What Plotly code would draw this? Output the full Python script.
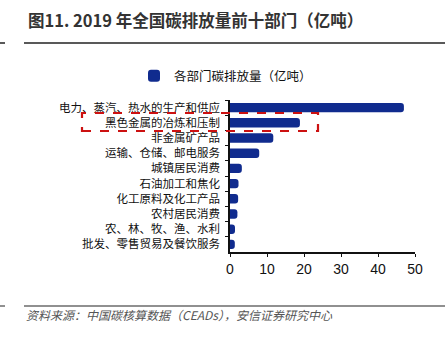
import plotly.graph_objects as go

categories = ["电力、蒸汽、热水的生产和供应", "黑色金属的冶炼和压制", "非金属矿产品",
              "运输、仓储、邮电服务", "城镇居民消费", "石油加工和焦化",
              "化工原料及化工产品", "农村居民消费", "农、林、牧、渔、水利",
              "批发、零售贸易及餐饮服务"]
values = [47.0, 18.9, 11.7, 7.9, 3.2, 2.3, 2.2, 2.0, 1.35, 1.3]
series_name = "各部门碳排放量（亿吨）"
x_ticks = [0, 10, 20, 30, 40, 50]

FONT = "Noto Sans CJK SC"
BLUE = "#102B8E"

fig = go.Figure()
fig.add_trace(go.Bar(
    x=values, y=categories, orientation="h", name=series_name,
    marker=dict(color=BLUE, line=dict(width=0)), width=0.62,
    showlegend=True,
))

L, R, T, B = 230, 30, 100, 87
W, H = 445, 339
pw, ph = W - L - R, H - T - B

def px(x):
    return (x - L) / pw

def py(y):
    return (H - B - y) / ph

shapes = [
    dict(type="line", xref="paper", yref="paper", x0=px(0), x1=px(5), y0=py(43), y1=py(43),
         line=dict(color="#222", width=1.5)),
    dict(type="line", xref="paper", yref="paper", x0=px(24), x1=px(445), y0=py(43), y1=py(43),
         line=dict(color="#222", width=1.5)),
    dict(type="line", xref="paper", yref="paper", x0=px(0), x1=px(5), y0=py(306), y1=py(306),
         line=dict(color="#222", width=1)),
    dict(type="line", xref="paper", yref="paper", x0=px(24), x1=px(445), y0=py(306), y1=py(306),
         line=dict(color="#222", width=1.2)),
    dict(type="rect", xref="paper", yref="paper", x0=px(82), x1=px(318), y0=py(131), y1=py(113),
         line=dict(color="#CC1111", width=2.2, dash="dash")),
]

annotations = [
    dict(text="<b>图11. 2019 年全国碳排放量前十部门（亿吨）</b>", xref="paper", yref="paper",
         x=px(26), y=py(20), xanchor="left", yanchor="middle", showarrow=False,
         font=dict(family=FONT, size=16.5, color="#333")),
    dict(text="<i>资料来源：中国碳核算数据（CEADs），安信证券研究中心</i>", xref="paper", yref="paper",
         x=px(24), y=py(314), xanchor="left", yanchor="middle", showarrow=False,
         font=dict(family=FONT, size=12, color="#555")),
]

fig.update_layout(
    width=W, height=H,
    margin=dict(l=L, r=R, t=T, b=B),
    paper_bgcolor="white", plot_bgcolor="white",
    font=dict(family=FONT, size=12, color="#111"),
    shapes=shapes, annotations=annotations,
    bargap=0.38,
    legend=dict(orientation="h", x=px(134), y=py(76), xanchor="left", yanchor="middle",
                itemwidth=30,
                font=dict(family=FONT, size=12.5, color="#111"), bgcolor="rgba(0,0,0,0)"),
    xaxis=dict(range=[0, 50], tickvals=x_ticks, showgrid=False, zeroline=False,
               showline=True, linecolor="#111", linewidth=1.5, ticks="outside", ticklen=3,
               tickcolor="#111", tickfont=dict(family="Liberation Sans", size=14, color="#111")),
    yaxis=dict(categoryorder="array", categoryarray=categories, autorange="reversed",
               showgrid=False, showline=True, linecolor="#111", linewidth=1.5,
               ticks="outside", ticklen=3, tickcolor="#111", tickson="boundaries",
               ticklabelstandoff=6,
               tickfont=dict(family=FONT, size=11.5, color="#111")),
    barcornerradius=3,
)

fig.write_html("out.html")
